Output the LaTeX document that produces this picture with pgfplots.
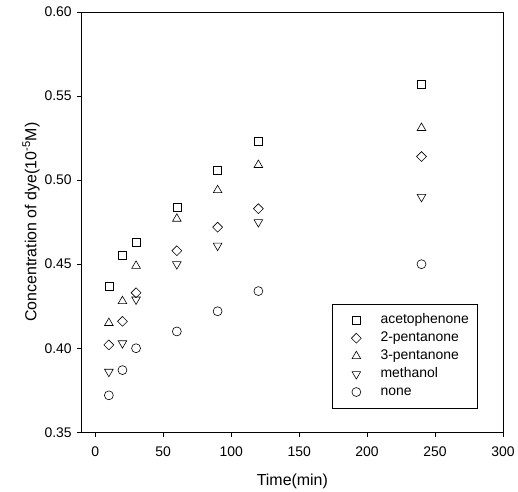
\documentclass[border=0pt]{standalone}
\usepackage{pgfplots}
\pgfplotsset{compat=1.18}
\usepackage{fontspec}
\setmainfont{Liberation Sans}

\begin{document}
\begin{tikzpicture}
\begin{axis}[
    scale only axis,
    width=423pt, height=422pt,
    xmin=-10, xmax=300,
    ymin=0.35, ymax=0.60,
    xtick={0,50,...,300},
    ytick={0.35,0.40,...,0.60},
    xtick pos=bottom, ytick pos=left,
    tick align=outside,
    major tick length=4.5pt,
    axis line style={line width=0.8pt},
    tick style={line width=0.8pt, black},
    /pgf/number format/assume math mode=true,
    yticklabel style={xshift=-2pt,
        /pgf/number format/fixed,
        /pgf/number format/fixed zerofill,
        /pgf/number format/precision=2},
    ticklabel style={font=\fontsize{14}{16}\selectfont},
    xticklabel style={yshift=-6pt},
    xlabel={Time(min)},
    ylabel={Concentration of dye(10\textsuperscript{-5}M)},
    label style={font=\fontsize{16}{18}\selectfont},
    xlabel style={at={(axis description cs:0.5,0)}, anchor=base, yshift=-53pt},
    ylabel style={at={(axis description cs:-0.0993,0.5)}, anchor=south, inner sep=0pt},
    every axis plot/.append style={only marks, black, line width=0.6pt},
    legend cell align=left,
    legend style={
        at={(0.939,0.057)}, anchor=south east,
        draw=black, line width=0.8pt,
        inner xsep=6pt, inner ysep=7.5pt,
        row sep=1pt,
        font=\fontsize{14}{16}\selectfont,
        nodes={inner sep=2pt, text height=10pt, text depth=3pt},
    },
    legend image code/.code={%
        \path (0pt,0pt) (40pt,0pt);
        \draw[#1] plot coordinates {(18pt,0pt)};
    },
]
\addplot[mark=square, mark size=4pt] coordinates {
    (10,0.437) (20,0.455) (30,0.463) (60,0.484) (90,0.506) (120,0.523) (240,0.557)
};
\addlegendentry{acetophenone}
\addplot[mark=square, mark size=3.5pt, mark options={rotate=45}] coordinates {
    (10,0.402) (20,0.416) (30,0.433) (60,0.458) (90,0.472) (120,0.483) (240,0.514)
};
\addlegendentry{2-pentanone}
\addplot[mark=triangle, mark size=5pt] coordinates {
    (10,0.415) (20,0.428) (30,0.449) (60,0.477) (90,0.494) (120,0.509) (240,0.531)
};
\addlegendentry{3-pentanone}
\addplot[mark=triangle, mark size=5pt, mark options={rotate=180}] coordinates {
    (10,0.386) (20,0.403) (30,0.429) (60,0.450) (90,0.461) (120,0.475) (240,0.490)
};
\addlegendentry{methanol}
\addplot[mark=o, mark size=4.5pt] coordinates {
    (10,0.372) (20,0.387) (30,0.400) (60,0.410) (90,0.422) (120,0.434) (240,0.450)
};
\addlegendentry{none}
\end{axis}
\path[use as bounding box] ([shift={(-82pt,-59pt)}]current axis.south west) rectangle ([shift={(13pt,12pt)}]current axis.north east);
\end{tikzpicture}
\end{document}
